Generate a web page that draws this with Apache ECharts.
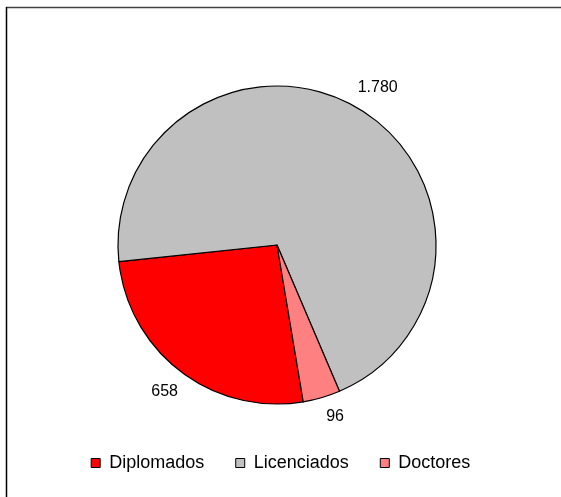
<!DOCTYPE html>
<html>
<head>
<meta charset="utf-8">
<script src="https://cdn.jsdelivr.net/npm/echarts@6/dist/echarts.min.js"></script>
<style>
html,body{margin:0;padding:0;background:#fff;}
#chart{width:561px;height:497px;}
</style>
</head>
<body>
<div id="chart"></div>
<script>
var categories = ['Diplomados', 'Licenciados', 'Doctores'];
var values = [658, 1780, 96];
var valueLabels = ['658', '1.780', '96'];
var colors = ['#FF0000', '#C0C0C0', '#FF8080'];

var chart = echarts.init(document.getElementById('chart'), null, {renderer: 'canvas'});

// label nudges (style only), mimicking the original best-fit label placement
var labelNudge = [[2, -4], [5, 6], [5, -10]];

var pieData = categories.map(function (c, i) {
  return { name: c, value: values[i], itemStyle: { color: colors[i] } };
});
var labelData = categories.map(function (c, i) {
  return { name: c, value: values[i], label: { offset: labelNudge[i] } };
});

var FONT = 'Liberation Sans, Arial, sans-serif';

chart.setOption({
  animation: false,
  backgroundColor: '#fff',
  legend: {
    data: categories,
    left: 'center',
    top: 449,
    itemWidth: 9,
    itemHeight: 9,
    itemGap: 31,
    icon: 'rect',
    itemStyle: { borderColor: '#000', borderWidth: 1 },
    textStyle: { fontFamily: FONT, fontSize: 18, color: '#000', padding: [0, 0, 0, 4] }
  },
  graphic: [
    { type: 'line', shape: { x1: 6, y1: 7.5, x2: 561, y2: 7.5 }, style: { stroke: '#404040', lineWidth: 1.5 }, silent: true },
    { type: 'line', shape: { x1: 6.5, y1: 7, x2: 6.5, y2: 497 }, style: { stroke: '#000', lineWidth: 1.5 }, silent: true }
  ],
  series: [
    {
      type: 'pie',
      center: [277, 245],
      radius: [0, 159],
      startAngle: -80.5,
      clockwise: true,
      data: pieData,
      label: { show: false },
      labelLine: { show: false },
      itemStyle: { borderColor: '#000', borderWidth: 1.2 },
      emphasis: { disabled: true },
      silent: true
    },
    {
      type: 'pie',
      center: [277, 245],
      radius: [172, 200],
      startAngle: -80.5,
      clockwise: true,
      data: labelData,
      itemStyle: { color: 'rgba(0,0,0,0)', borderWidth: 0 },
      label: {
        show: true,
        position: 'inside',
        formatter: function (p) { return valueLabels[p.dataIndex]; },
        fontFamily: FONT,
        fontSize: 16,
        color: '#000'
      },
      labelLine: { show: false },
      emphasis: { disabled: true },
      silent: true
    }
  ]
});
</script>
</body>
</html>
